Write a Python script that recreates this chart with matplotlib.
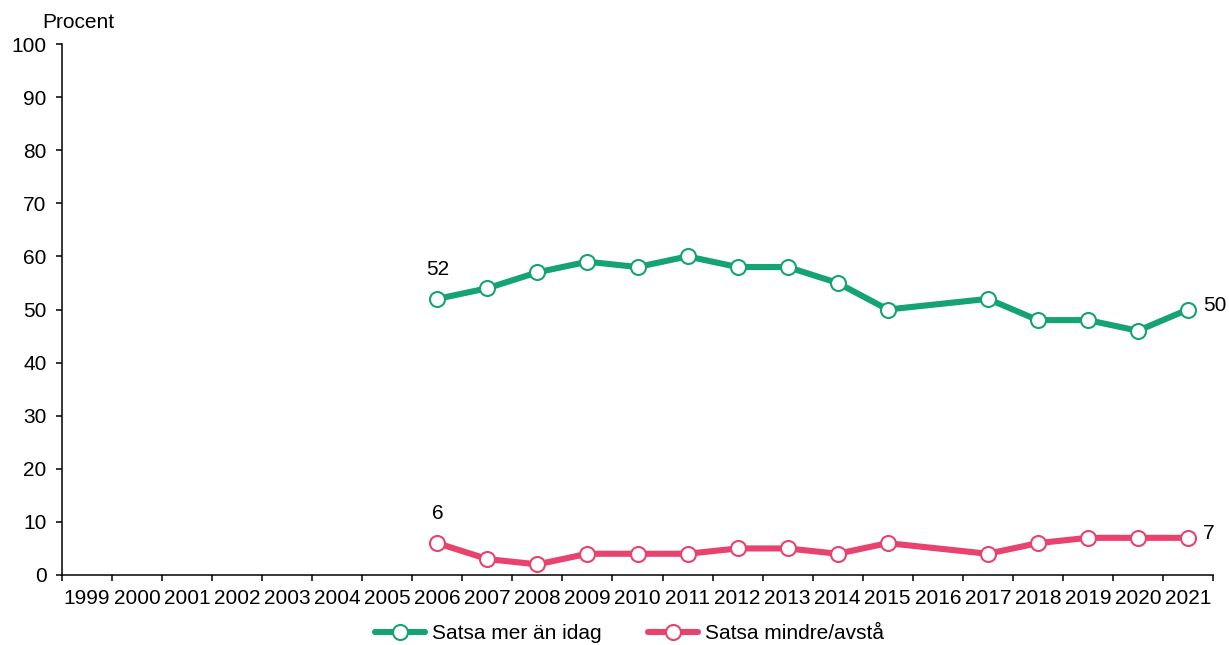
import numpy as np
import matplotlib
matplotlib.use("Agg")
import matplotlib.pyplot as plt

plt.rcParams["font.family"] = ["Liberation Sans", "DejaVu Sans"]

years = [str(y) for y in range(1999, 2022)]
# None = ingen mätning det året
mer = [None] * 7 + [52, 54, 57, 59, 58, 60, 58, 58, 55, 50, None, 52, 48, 48, 46, 50]
mindre = [None] * 7 + [6, 3, 2, 4, 4, 4, 5, 5, 4, 6, None, 4, 6, 7, 7, 7]
labels = ["Satsa mer än idag", "Satsa mindre/avstå"]
colors = ["#15A376", "#E8426F"]

fs = 15
fig = plt.figure(figsize=(12.29, 6.45), dpi=100)
ax = fig.add_axes([62 / 1229, 1 - 575 / 645, (1213 - 62) / 1229, (575 - 44) / 645])

x = np.arange(len(years))
for vals, lab, col in zip([mer, mindre], labels, colors):
    xs = [i for i, v in zip(x, vals) if v is not None]
    ys = [v for v in vals if v is not None]
    ax.plot(xs, ys, color=col, lw=4.4, marker="o", ms=10.8, mfc="white",
            mec=col, mew=1.5, label=lab, solid_capstyle="round")
    ax.annotate(str(ys[0]), (xs[0], ys[0]), xytext=(0, 21), textcoords="offset points",
                ha="center", va="center", fontsize=fs)
    ax.annotate(str(ys[-1]), (xs[-1], ys[-1]), xytext=(11, 3), textcoords="offset points",
                ha="left", va="center", fontsize=fs)

ax.set_xlim(-0.5, len(years) - 0.5)
ax.set_ylim(0, 100)
ax.set_yticks(range(0, 101, 10))
ax.set_xticks(np.arange(-0.5, len(years), 1))
ax.set_xticklabels([])
ax.set_xticks(x, minor=True)
ax.set_xticklabels(years, minor=True)
ax.tick_params(axis="x", which="minor", length=0, pad=10, labelsize=fs)
ax.tick_params(axis="x", which="major", length=4, width=1.1)
ax.tick_params(axis="y", length=4, width=1.1, labelsize=fs, pad=7)
for s in ["top", "right"]:
    ax.spines[s].set_visible(False)
for s in ["left", "bottom"]:
    ax.spines[s].set_linewidth(1.1)

fig.text(42 / 1229, 1 - 22 / 645, "Procent", fontsize=fs, va="center", ha="left")

leg = ax.legend(loc="center", bbox_to_anchor=(0.493, -0.111), ncol=2, frameon=False,
                fontsize=fs, handlelength=2.4, columnspacing=2.2, handletextpad=0.35,
                borderpad=0)

fig.savefig("out.png", dpi=100)
